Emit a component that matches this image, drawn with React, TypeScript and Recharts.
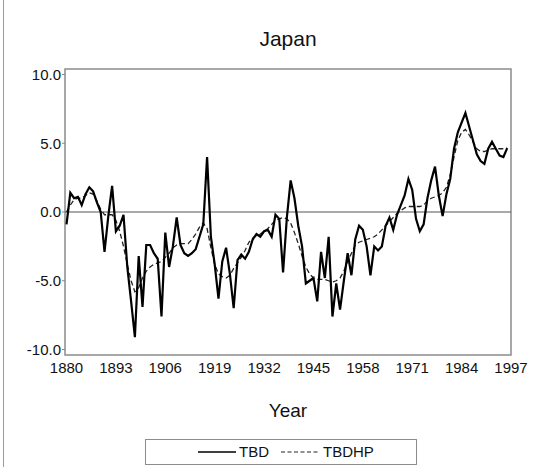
import React from 'react';
import { LineChart, Line, XAxis, YAxis, ReferenceLine, ReferenceArea } from 'recharts';

const years = Array.from({ length: 117 }, (_, i) => 1880 + i);

// TBD, 1880..1996
const tbd = [
    -0.9, 1.4, 1.0, 1.1, 0.5, 1.3, 1.8, 1.5, 0.7, 0.0,
    -2.9, -0.3, 1.9, -1.4, -1.0, -0.2, -4.0, -6.5, -9.1, -3.2,
    -6.9, -2.4, -2.4, -3.0, -3.4, -7.6, -1.5, -4.0, -2.5, -0.4,
    -2.4, -3.0, -3.2, -3.0, -2.7, -1.8, -0.9, 4.0, -1.8, -3.8,
    -6.3, -3.6, -2.6, -4.5, -7.0, -3.5, -3.1, -3.4, -2.9, -2.0,
    -1.6, -1.8, -1.4, -1.3, -1.8, -0.2, -0.5, -4.4, -0.4, 2.3,
    1.0, -1.0, -2.5, -5.2, -5.0, -4.8, -6.5, -2.9, -4.8, -1.8,
    -7.6, -5.2, -7.1, -5.0, -3.0, -4.6, -2.0, -1.0, -1.3, -2.5,
    -4.6, -2.5, -2.8, -2.5, -1.0, -0.4, -1.3, -0.2, 0.5, 1.2,
    2.4, 1.6, -0.5, -1.4, -0.9, 1.0, 2.3, 3.3, 1.2, -0.3,
    1.3, 2.4, 4.6, 5.8, 6.5, 7.2, 6.2, 5.2, 4.2, 3.7,
    3.5, 4.6, 5.1, 4.6, 4.1, 4.0, 4.65,
];

// TBDHP trend
const tbdhp = [
    0.0, 0.5, 0.9, 1.0, 1.0, 1.2, 1.4, 1.3, 0.8, 0.2,
    -0.2, -0.2, -0.2, -0.6, -1.4, -2.5, -3.8, -5.0, -5.8, -5.5,
    -4.8, -4.3, -4.0, -3.8, -3.7, -3.6, -3.3, -3.0, -2.6, -2.4,
    -2.3, -2.3, -2.3, -2.0, -1.6, -1.1, -0.8, -1.2, -2.6, -3.8,
    -4.5, -4.7, -4.8, -4.6, -4.1, -3.7, -3.3, -2.8, -2.2, -1.9,
    -1.7, -1.6, -1.4, -1.2, -0.9, -0.6, -0.5, -0.4, -0.5, -0.8,
    -1.5, -2.3, -3.2, -4.0, -4.5, -4.8, -4.9, -4.9, -4.9, -5.0,
    -5.1, -5.0, -4.8, -4.3, -3.6, -3.0, -2.4, -2.2, -2.1, -2.0,
    -1.9, -1.8, -1.6, -1.3, -1.0, -0.7, -0.4, -0.1, 0.1, 0.3,
    0.4, 0.4, 0.4, 0.4, 0.5, 0.8, 1.0, 1.1, 1.2, 1.4,
    1.8, 2.7, 4.0, 5.2, 5.8, 6.0, 5.6, 5.1, 4.6, 4.4,
    4.4, 4.5, 4.6, 4.6, 4.6, 4.6, 4.65,
];

const xTicks = [1880, 1893, 1906, 1919, 1932, 1945, 1958, 1971, 1984, 1997];
const yTicks = [-10, -5, 0, 5, 10];

const data = years.map((year, i) => ({ year, TBD: tbd[i], TBDHP: tbdhp[i] }));

const font = '"Liberation Sans", Arial, sans-serif';
const X_MIN = 1879.6;
const X_MAX = 1997;
const Y_MIN = -10.4;
const Y_MAX = 10.4;

export default function App() {
    return (
        <div style={{ position: 'absolute', left: 0, top: 0, width: 534, height: 467, background: '#fff', fontFamily: font }}>
            <div style={{ position: 'absolute', left: 3, top: 0, width: 0, height: 467, borderLeft: '1px solid #9a9a9a' }} />
            <div style={{ position: 'absolute', left: 0, top: 27, width: 576, textAlign: 'center', fontSize: 21, color: '#111' }}>Japan</div>
            <LineChart width={534} height={467} data={data} margin={{ top: 69, right: 23, bottom: 82, left: 0 }}>
                <XAxis
                    dataKey="year"
                    type="number"
                    domain={[X_MIN, X_MAX]}
                    ticks={xTicks}
                    interval={0}
                    allowDataOverflow
                    axisLine={false}
                    tickLine={false}
                    tickSize={7}
                    tickMargin={0}
                    height={30}
                    tick={{ fontSize: 15, fill: '#111', fontFamily: font }}
                />
                <YAxis
                    type="number"
                    domain={[Y_MIN, Y_MAX]}
                    ticks={yTicks}
                    allowDataOverflow
                    width={65}
                    axisLine={false}
                    tickLine={{ stroke: '#888' }}
                    tickSize={3}
                    tickMargin={1}
                    tickFormatter={(v: number) => v.toFixed(1)}
                    tick={{ fontSize: 15, fill: '#111', fontFamily: font }}
                />
                <ReferenceArea x1={X_MIN} x2={X_MAX} y1={Y_MIN} y2={Y_MAX} fill="none" fillOpacity={0} stroke="#8c8c8c" strokeWidth={1.5} ifOverflow="visible" />
                <ReferenceLine y={0} stroke="#555" strokeWidth={1} />
                <Line type="linear" dataKey="TBDHP" stroke="#222" strokeWidth={1.3} strokeDasharray="5 3" dot={false} isAnimationActive={false} />
                <Line type="linear" dataKey="TBD" stroke="#000" strokeWidth={2.2} dot={false} isAnimationActive={false} />
            </LineChart>
            <div style={{ position: 'absolute', left: 0, top: 400, width: 576, textAlign: 'center', fontSize: 19, color: '#111' }}>Year</div>
            <div style={{ position: 'absolute', left: 145, top: 439, width: 272, height: 26, border: '1px solid #8c8c8c', boxSizing: 'border-box' }}>
                <svg width={270} height={24} style={{ position: 'absolute', left: 0, top: 0 }}>
                    <line x1={52} x2={90} y1={12} y2={12} stroke="#000" strokeWidth={1.6} />
                    <text x={93} y={17} fontSize={15} fontFamily={font} fill="#111">TBD</text>
                    <line x1={135} x2={173} y1={12} y2={12} stroke="#222" strokeWidth={1.2} strokeDasharray="4 2.5" />
                    <text x={177} y={17} fontSize={15} fontFamily={font} fill="#111">TBDHP</text>
                </svg>
            </div>
        </div>
    );
}
